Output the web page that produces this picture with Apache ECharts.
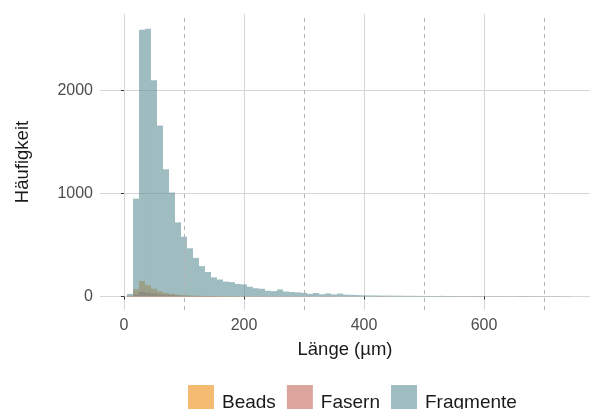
<!DOCTYPE html>
<html>
<head>
<meta charset="utf-8">
<script src="https://cdn.jsdelivr.net/npm/echarts@6/dist/echarts.min.js"></script>
<style>html,body{margin:0;padding:0;background:#fff;}#c{width:592px;height:409px;}</style>
</head>
<body>
<div id="c"></div>
<script>
// Bin centres (µm), bin width 10
const binWidth = 10;
const binCenters = [];
for (let c = 10; c <= 740; c += 10) binCenters.push(c);

const fragmente = [
  25, 950, 2590, 2600, 2100, 1660, 1235, 1010, 720, 580,
  468, 375, 295, 238, 186, 165, 145, 140, 122, 118,
  95, 80, 75, 56, 52, 68, 48, 44, 40, 36,
  26, 34, 22, 30, 20, 28, 18, 16, 14, 12,
  11, 10, 9, 9, 8, 8, 7, 7, 6, 6,
  5, 5, 6, 4, 5, 4, 3, 4, 3, 3,
  3, 2, 3, 2, 2, 3, 2, 2, 1, 2,
  1, 2, 1, 1
];
const beads = [
  5, 70, 150, 110, 75, 50, 35, 25, 18, 12,
  10, 8, 6, 5, 4, 4, 3, 3, 2, 2,
  2, 2, 1, 1, 1, 1, 1, 1, 1, 1,
  1, 0, 1, 0, 1, 0, 0, 1, 0, 0,
  0, 0, 1, 0, 0, 0, 0, 0, 0, 0,
  0, 0, 0, 0, 0, 0, 0, 0, 1, 0,
  0, 0, 0, 0, 0, 0, 1, 0, 0, 0,
  0, 0, 0, 0
];
const fasern = [
  2, 20, 45, 40, 30, 22, 16, 12, 10, 8,
  6, 5, 5, 4, 4, 3, 3, 3, 2, 2,
  2, 2, 2, 1, 1, 1, 1, 1, 1, 1,
  1, 1, 1, 1, 1, 1, 1, 1, 1, 1,
  1, 1, 1, 1, 1, 1, 1, 1, 1, 1,
  1, 1, 1, 1, 1, 1, 2, 2, 2, 1,
  1, 1, 1, 1, 1, 2, 2, 2, 2, 2,
  1, 1, 1, 1
];
const xTicks = [0, 200, 400, 600];
const yTicks = [0, 1000, 2000];
const dashedLines = [100, 300, 500, 700];

function renderItem(params, api) {
  const c = api.value(0), v = api.value(1);
  const p0 = api.coord([c - binWidth / 2, 0]);
  const p1 = api.coord([c + binWidth / 2, v]);
  return {
    type: 'rect',
    shape: { x: p0[0], y: p1[1], width: p1[0] - p0[0], height: p0[1] - p1[1] },
    style: api.style()
  };
}
function mk(name, vals, color, extra) {
  return Object.assign({
    name: name,
    type: 'custom',
    renderItem: renderItem,
    itemStyle: { color: color },
    encode: { x: 0, y: 1 },
    data: binCenters.map((c, i) => [c, vals[i]])
  }, extra || {});
}

const chart = echarts.init(document.getElementById('c'));
chart.setOption({
  animation: false,
  textStyle: { fontFamily: 'Liberation Sans, Arial, sans-serif' },
  grid: { left: 100, right: 2, top: 14, bottom: 99 },
  legend: {
    data: ['Beads', 'Fasern', 'Fragmente'],
    left: 188, top: 385, padding: 0,
    icon: 'path://M0,0H26V26H0ZM0,35.9H0.1V36H0Z',
    itemWidth: 26, itemHeight: 36, itemGap: 11,
    textStyle: { fontSize: 19, color: '#1a1a1a', padding: [0, 0, 0, 3] }
  },
  xAxis: {
    type: 'value', min: -40, max: 776.7,
    name: 'Länge (µm)', nameLocation: 'middle', nameGap: 30,
    nameTextStyle: { fontSize: 18.5, color: '#1a1a1a' },
    axisLine: { show: false },
    axisTick: { show: true, length: 3, lineStyle: { color: '#333' }, customValues: xTicks },
    axisLabel: { fontSize: 16, color: '#4d4d4d', margin: 8, customValues: xTicks },
    splitLine: { show: true, lineStyle: { color: '#d6d6d6', width: 1 }, customValues: xTicks }
  },
  yAxis: {
    type: 'value', min: -131, max: 2743,
    name: 'Häufigkeit', nameLocation: 'middle', nameGap: 68,
    nameTextStyle: { fontSize: 18.5, color: '#1a1a1a' },
    axisLine: { show: false },
    axisTick: { show: true, length: 3, lineStyle: { color: '#333' }, customValues: yTicks },
    axisLabel: { fontSize: 16, color: '#4d4d4d', margin: 7, customValues: yTicks, formatter: v => String(v) },
    splitLine: { show: true, lineStyle: { color: '#d6d6d6', width: 1 }, customValues: yTicks }
  },
  series: [
    mk('Beads', beads, 'rgba(240,142,22,0.6)'),
    mk('Fasern', fasern, 'rgba(197,105,90,0.6)'),
    mk('Fragmente', fragmente, 'rgba(95,143,150,0.6)', {
      markLine: {
        silent: true, symbol: 'none', label: { show: false },
        lineStyle: { type: [4, 4], color: '#b3b3b3', width: 1 },
        data: dashedLines.map(v => ({ xAxis: v }))
      }
    })
  ]
});
</script>
</body>
</html>
